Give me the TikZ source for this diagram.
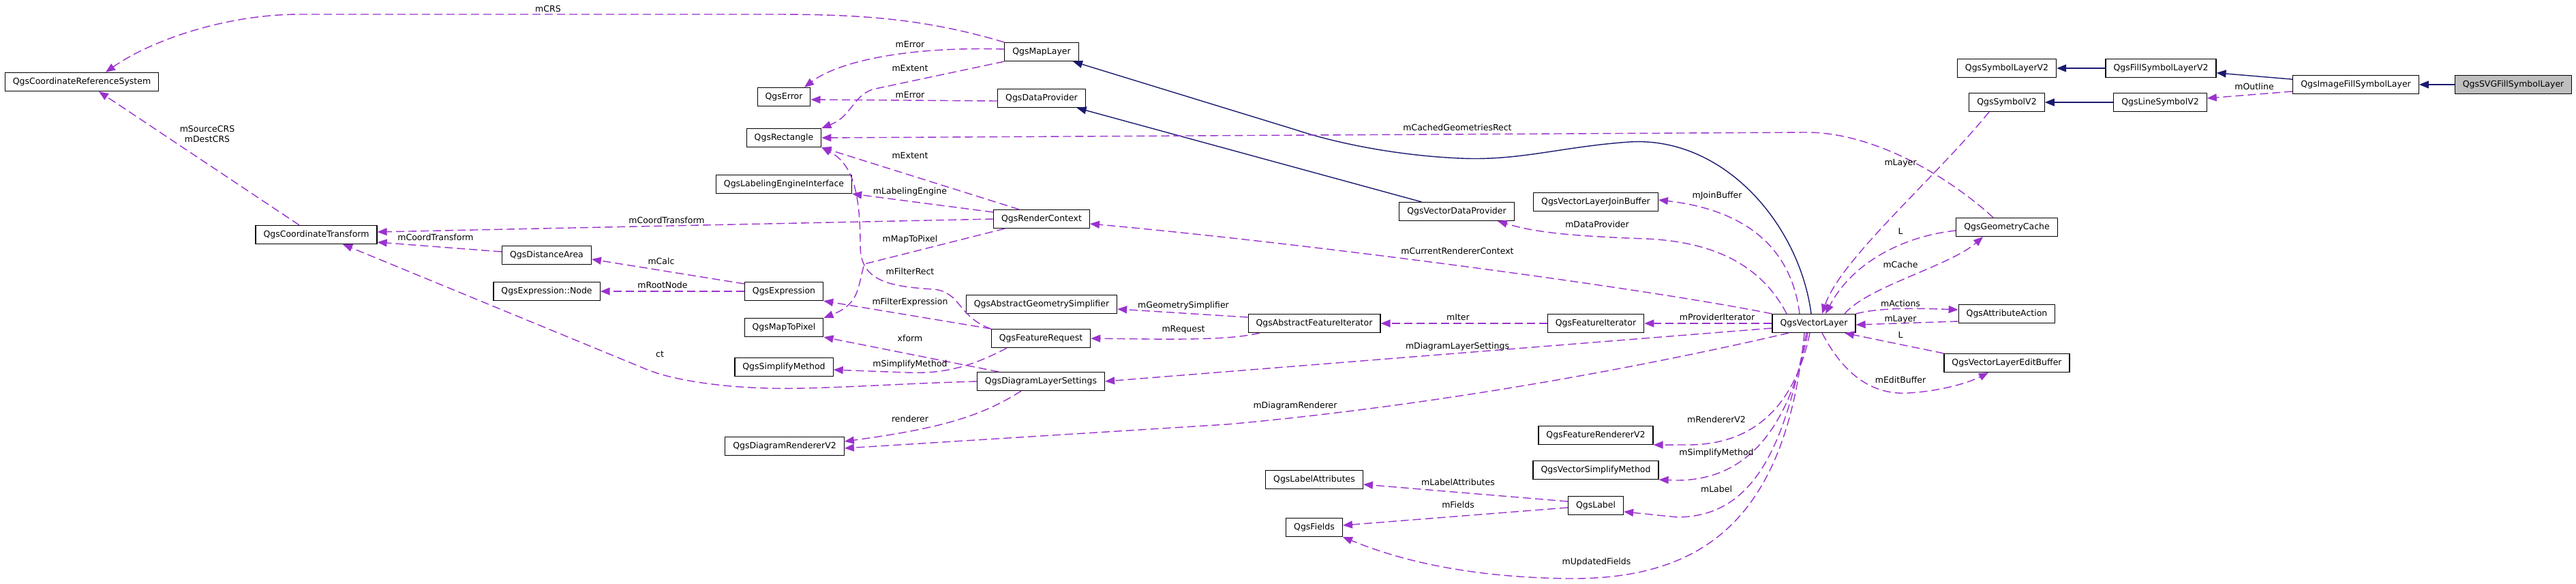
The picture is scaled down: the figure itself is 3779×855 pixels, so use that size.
\documentclass[tikz,border=0pt]{standalone}
\usepackage{fontspec}
\setmainfont{DejaVu Sans}
\usetikzlibrary{arrows.meta}

\definecolor{usecol}{HTML}{9A32CD}
\definecolor{inhcol}{HTML}{191970}
\definecolor{curfill}{HTML}{BFBFBF}

\begin{document}
\begin{tikzpicture}[
  x=1pt, y=-1pt,
  every node/.style={font=\fontsize{12.5}{15}\selectfont},
  box/.style ={draw, line width=1.2pt, fill=white,
               minimum height=27pt, inner xsep=11.5pt, inner ysep=0pt},
  cur/.style ={box, fill=curfill},
  use/.style ={-{Triangle[length=14pt,width=11pt]}, usecol,
               line width=1.4pt, dash pattern=on 12pt off 6pt},
  inh/.style ={-{Triangle[length=14pt,width=11pt]}, inhcol, line width=1.4pt},
  lbl/.style ={inner sep=0pt}
]
\useasboundingbox (0,0) rectangle (3779,855);

%% ---- classes -------------------------------------------------------
\node[box] (crs)    at (120,120)  {QgsCoordinateReferenceSystem};
\node[box] (ct)     at (464,344)  {QgsCoordinateTransform};
\node[box] (da)     at (802,374)  {QgsDistanceArea};
\node[box] (exnode) at (802,427)  {QgsExpression::Node};

\node[box] (err)    at (1150,142) {QgsError};
\node[box] (rect)   at (1150,202) {QgsRectangle};
\node[box] (lei)    at (1150,270) {QgsLabelingEngineInterface};
\node[box] (expr)   at (1150,427) {QgsExpression};
\node[box] (m2p)    at (1150,480) {QgsMapToPixel};
\node[box] (simp)   at (1150,538) {QgsSimplifyMethod};
\node[box] (drend)  at (1151,654) {QgsDiagramRendererV2};

\node[box] (maplayer) at (1528,76)  {QgsMapLayer};
\node[box] (dprov)  at (1528,144) {QgsDataProvider};
\node[box] (rctx)   at (1528,321) {QgsRenderContext};
\node[box] (ags)    at (1528,446) {QgsAbstractGeometrySimplifier};
\node[box] (freq)   at (1527,496) {QgsFeatureRequest};
\node[box] (dls)    at (1527,559) {QgsDiagramLayerSettings};

\node[box] (afi)    at (1928,474) {QgsAbstractFeatureIterator};
\node[box] (lattr)  at (1928,703) {QgsLabelAttributes};
\node[box] (fields) at (1928,773) {QgsFields};

\node[box] (vdp)    at (2137,310) {QgsVectorDataProvider};
\node[box] (jbuf)   at (2341,296) {QgsVectorLayerJoinBuffer};
\node[box] (fiter)  at (2341,474) {QgsFeatureIterator};
\node[box] (frend)  at (2341,638) {QgsFeatureRendererV2};
\node[box] (vsm)    at (2341,689) {QgsVectorSimplifyMethod};
\node[box] (label)  at (2341,741) {QgsLabel};

\node[box] (vl)     at (2661,474) {QgsVectorLayer};

\node[box] (slv2)   at (2944,100) {QgsSymbolLayerV2};
\node[box] (sv2)    at (2944,150) {QgsSymbolV2};
\node[box] (gcache) at (2944,333) {QgsGeometryCache};
\node[box] (aact)   at (2944,460) {QgsAttributeAction};
\node[box] (ebuf)   at (2944,532) {QgsVectorLayerEditBuffer};

\node[box] (fslv2)  at (3170,100) {QgsFillSymbolLayerV2};
\node[box] (lsv2)   at (3169,150) {QgsLineSymbolV2};
\node[box] (ifsl)   at (3456,124) {QgsImageFillSymbolLayer};
\node[cur] (svg)    at (3687,124) {QgsSVGFillSymbolLayer};

%% ---- inheritance ---------------------------------------------------
\draw[inh] (svg)   -- (ifsl);
\draw[inh] (ifsl)  -- (fslv2);
\draw[inh] (fslv2) -- (slv2);
\draw[inh] (lsv2)  -- (sv2);
\draw[inh] (vdp)   -- (dprov);
\draw[inh] ([xshift=-4pt]vl.north) .. controls (2640,330) and (2530,200) .. (2391,208)
           .. controls (2290,215) and (2230,236) .. (2142,232)
           .. controls (2050,228) and (1960,210) .. (1900,190) -- (maplayer);

%% ---- usage (left part) ---------------------------------------------
\draw[use] (maplayer.north west) .. controls (1350,25) and (1250,21) .. (1130,21)
           -- (440,21) .. controls (330,21) and (220,60) .. ([xshift=35pt]crs.north);
\draw[use] ([xshift=-25pt]ct.north) -- ([xshift=25pt]crs.south);
\draw[use] (rctx.west) -- ([yshift=4pt]ct.east);
\draw[use] ([yshift=5pt]da.west) -- ([yshift=-11pt]ct.east);
\draw[use] (dls.west) .. controls (1300,563) and (1200,571) .. (1126,569)
           .. controls (1050,567) and (985,556) .. (950,542) -- ([xshift=39pt]ct.south);
\draw[use] ([yshift=11pt]expr.west) -- ([yshift=-6pt]da.east);
\draw[use] (expr.west) -- (exnode.east);

\draw[use] ([yshift=4pt]maplayer.west) .. controls (1330,68) and (1230,90) .. ([xshift=30pt]err.north);
\draw[use] (maplayer.south west) -- (1280,131) .. controls (1250,142) and (1250,170) .. (rect.north east);
\draw[use] ([yshift=-4pt]dprov.west) -- ([yshift=-4pt]err.east);
\draw[use] ([xshift=-33pt]rctx.north) -- (rect.south east);
\draw[use] ([yshift=10pt]rctx.west) -- (lei.south east);
\draw[use] ([xshift=-54pt]rctx.south) -- (1268,387) .. controls (1258,420) and (1262,445) .. (m2p.north east);
\draw[use] (freq.north west) .. controls (1405,465) and (1410,428) .. (1370,424)
           .. controls (1300,420) and (1262,410) .. (1262,360)
           .. controls (1262,280) and (1250,240) .. (rect.south east);
\draw[use] (freq.north west) -- (expr.south east);
\draw[use] ([xshift=-62pt]dls.north) -- (m2p.south east);
\draw[use] ([xshift=-50pt]freq.south) .. controls (1420,540) and (1380,548) .. (1330,546)
           -- ([yshift=-4pt]simp.east);
\draw[use] ([xshift=-29pt]dls.south) .. controls (1440,610) and (1380,628) .. ([yshift=7pt]drend.east);

%% ---- usage (vector layer) ------------------------------------------
\draw[use] ([xshift=-37pt]vl.south) .. controls (2400,540) and (2100,595) .. (1800,622)
           -- ([yshift=-3pt]drend.east);
\draw[use] ([yshift=-7pt]vl.west) -- (dls.east);
\draw[use] (vl.north west) .. controls (2400,420) and (1900,355) .. ([yshift=-7pt]rctx.east);
\draw[use] ([xshift=-40pt]vl.north) .. controls (2590,400) and (2530,355) .. (2415,350)
           .. controls (2300,346) and (2250,340) .. ([xshift=60pt]vdp.south);
\draw[use] ([xshift=-21pt]vl.north) .. controls (2630,380) and (2580,310) .. ([yshift=3pt]jbuf.east);
\draw[use] ([xshift=-20pt]gcache.north) .. controls (2860,260) and (2750,194) .. (2650,194)
           -- (rect.east);
\draw[use] ([xshift=-26pt]sv2.south) .. controls (2840,260) and (2700,380) .. ([xshift=12pt]vl.north);
\draw[use] ([yshift=-5pt]gcache.west) .. controls (2800,345) and (2720,380) .. ([xshift=17pt]vl.north);
\draw[use] ([xshift=45pt]vl.north) .. controls (2740,420) and (2860,390) .. ([xshift=-35pt]gcache.south);
\draw[use] (vl.north east) .. controls (2760,450) and (2820,452) .. ([yshift=6pt]aact.west);
\draw[use] ([yshift=-11pt]aact.west) -- ([yshift=-2pt]vl.east);
\draw[use] (ebuf.north west) -- ([xshift=45pt]vl.south);
\draw[use] ([xshift=12pt]vl.south) .. controls (2700,540) and (2740,580) .. (2800,576)
           .. controls (2850,573) and (2890,560) .. ([xshift=-27pt]ebuf.south);
\draw[use] (vl.west) -- (fiter.east);
\draw[use] (fiter.west) -- (afi.east);
\draw[use] ([xshift=-80pt]afi.south) .. controls (1800,500) and (1700,497) .. (freq.east);
\draw[use] ([yshift=9pt]afi.west) -- ([yshift=-7pt]ags.east);
\draw[use] ([xshift=-6pt]vl.south) .. controls (2640,560) and (2600,650) .. (2480,652) -- (frend.south east);
\draw[use] ([xshift=-9pt]vl.south) .. controls (2630,600) and (2580,704) .. (2460,704) -- (vsm.south east);
\draw[use] ([xshift=-11pt]vl.south) .. controls (2620,640) and (2580,758) .. (2460,758) -- ([yshift=-9pt]label.east);
\draw[use] ([xshift=-14pt]vl.south) .. controls (2620,760) and (2500,850) .. (2300,848)
           .. controls (2150,846) and (2050,820) .. (fields.south east);
\draw[use] ([yshift=6pt]label.west) -- ([yshift=-7pt]lattr.east);
\draw[use] ([yshift=-3pt]label.west) -- ([yshift=3pt]fields.east);

%% ---- symbols -------------------------------------------------------
\draw[use] ([yshift=-10pt]ifsl.west) -- ([yshift=6pt]lsv2.east);

%% ---- edge labels ---------------------------------------------------
\node[lbl] (l-crs)     at (804,13)   {mCRS};
\node[lbl, align=center] (l-srcdst) at (304,196) {mSourceCRS\\mDestCRS};
\node[lbl] (l-ctr1)    at (978,323)  {mCoordTransform};
\node[lbl] (l-ctr2)    at (639,348)  {mCoordTransform};
\node[lbl] (l-calc)    at (970,383)  {mCalc};
\node[lbl] (l-root)    at (972,418)  {mRootNode};
\node[lbl] (l-ct)      at (968,519)  {ct};
\node[lbl] (l-err1)    at (1335,65)  {mError};
\node[lbl] (l-ext1)    at (1335,100) {mExtent};
\node[lbl] (l-err2)    at (1335,139) {mError};
\node[lbl] (l-ext2)    at (1335,228) {mExtent};
\node[lbl] (l-leng)    at (1335,281) {mLabelingEngine};
\node[lbl] (l-m2p)     at (1335,351) {mMapToPixel};
\node[lbl] (l-frect)   at (1335,398) {mFilterRect};
\node[lbl] (l-fexpr)   at (1335,443) {mFilterExpression};
\node[lbl] (l-xform)   at (1335,496) {xform};
\node[lbl] (l-simp1)   at (1335,534) {mSimplifyMethod};
\node[lbl] (l-rend)    at (1335,614) {renderer};
\node[lbl] (l-gsimp)   at (1736,448) {mGeometrySimplifier};
\node[lbl] (l-req)     at (1736,483) {mRequest};
\node[lbl] (l-drend)   at (1900,595) {mDiagramRenderer};
\node[lbl] (l-cgr)     at (2138,187) {mCachedGeometriesRect};
\node[lbl] (l-crc)     at (2138,368) {mCurrentRendererContext};
\node[lbl] (l-dls)     at (2138,508) {mDiagramLayerSettings};
\node[lbl] (l-iter)    at (2139,465) {mIter};
\node[lbl] (l-lattr)   at (2139,707) {mLabelAttributes};
\node[lbl] (l-fields)  at (2139,740) {mFields};
\node[lbl] (l-dprov)   at (2343,329) {mDataProvider};
\node[lbl] (l-upd)     at (2342,824) {mUpdatedFields};
\node[lbl] (l-jbuf)    at (2519,287) {mJoinBuffer};
\node[lbl] (l-piter)   at (2519,465) {mProviderIterator};
\node[lbl] (l-rv2)     at (2518,615) {mRendererV2};
\node[lbl] (l-simp2)   at (2518,664) {mSimplifyMethod};
\node[lbl] (l-label)   at (2518,717) {mLabel};
\node[lbl] (l-layer1)  at (2788,239) {mLayer};
\node[lbl] (l-l1)      at (2788,339) {L};
\node[lbl] (l-cache)   at (2788,388) {mCache};
\node[lbl] (l-act)     at (2788,445) {mActions};
\node[lbl] (l-layer2)  at (2788,468) {mLayer};
\node[lbl] (l-l2)      at (2788,491) {L};
\node[lbl] (l-ebuf)    at (2788,557) {mEditBuffer};
\node[lbl] (l-outl)    at (3307,127) {mOutline};

\end{tikzpicture}
\end{document}
